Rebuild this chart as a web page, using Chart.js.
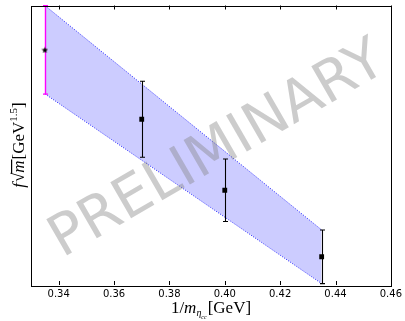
<!DOCTYPE html>
<html>
<head>
<meta charset="utf-8">
<script src="https://cdn.jsdelivr.net/npm/chart.js@4.4.0/dist/chart.umd.min.js"></script>
<style>
  html, body { margin: 0; padding: 0; background: #fff; }
  #wrap { width: 405px; height: 321px; position: relative; }
</style>
</head>
<body>
<div id="wrap"><canvas id="c" width="405" height="321"></canvas></div>
<script>
// ---- data (y in arbitrary units) ----
const xTicks = [0.34, 0.36, 0.38, 0.40, 0.42, 0.44, 0.46];
const latticeX = [0.37, 0.40, 0.435];
const latticeY = [0.593, 0.339, 0.101];
const latticeErr = [0.136, 0.112, 0.096];
const physX = [0.335];
const physY = [0.841];
const physErr = [0.158];
const bandX = [0.335, 0.435];
const bandUpper = [1.0, 0.197];
const bandLower = [0.684, 0.005];

const pts = (xs, ys) => xs.map((x, i) => ({ x: x, y: ys[i] }));

const serif = '"Liberation Serif", "DejaVu Serif", serif';

// filled five-point star used as the marker image
const starImg = (function () {
  const c = document.createElement('canvas');
  c.width = 7; c.height = 7;
  const g = c.getContext('2d');
  g.fillStyle = '#000';
  g.beginPath();
  for (let i = 0; i < 10; i++) {
    const r = i % 2 === 0 ? 3.4 : 1.5;
    const a = -Math.PI / 2 + i * Math.PI / 5;
    const x = 3.5 + r * Math.cos(a), y = 3.8 + r * Math.sin(a);
    if (i === 0) g.moveTo(x, y); else g.lineTo(x, y);
  }
  g.closePath();
  g.fill();
  return c;
})();

function drawRich(ctx, pieces, cx, baseY) {
  let total = 0;
  pieces.forEach(p => { ctx.font = p.font; p.w = ctx.measureText(p.t).width + (p.sp || 0); total += p.w; });
  let x = cx - total / 2;
  ctx.textAlign = 'left';
  ctx.textBaseline = 'alphabetic';
  pieces.forEach(p => {
    ctx.font = p.font;
    ctx.fillText(p.t, x, baseY + (p.dy || 0));
    if (p.over) {
      ctx.fillRect(x - 1, baseY + p.over, p.w + 1, 1.2);
    }
    x += p.w;
  });
}

const customPlugin = {
  id: 'custom',
  afterDatasetDraw(chart, args) {
    if (args.index !== 1) return;
    const ctx = chart.ctx, xs = chart.scales.x, ys = chart.scales.y;
    ctx.save();
    const area = chart.chartArea;
    ctx.beginPath();
    ctx.rect(area.left, area.top - 1, area.right - area.left, area.bottom - area.top + 2);
    ctx.clip();
    function bars(X, Y, E, color, lw) {
      ctx.strokeStyle = color; ctx.lineWidth = lw;
      X.forEach((x, i) => {
        const px = Math.round(xs.getPixelForValue(x)) + 0.5;
        const top = ys.getPixelForValue(Y[i] + E[i]);
        const bot = ys.getPixelForValue(Y[i] - E[i]);
        ctx.beginPath();
        ctx.moveTo(px, top); ctx.lineTo(px, bot);
        ctx.moveTo(px - 2.5, top); ctx.lineTo(px + 2.5, top);
        ctx.moveTo(px - 2.5, bot); ctx.lineTo(px + 2.5, bot);
        ctx.stroke();
      });
    }
    bars(physX, physY, physErr, '#ff00ff', 1.4);
    bars(latticeX, latticeY, latticeErr, '#000', 1.1);
    ctx.restore();
  },
  afterDraw(chart) {
    const ctx = chart.ctx, a = chart.chartArea, xs = chart.scales.x;
    ctx.save();
    // frame
    ctx.strokeStyle = '#000'; ctx.lineWidth = 1;
    ctx.strokeRect(Math.round(a.left) + 0.5, Math.round(a.top) + 0.5,
                   Math.round(a.right - a.left), Math.round(a.bottom - a.top));
    // inward ticks, bottom and top
    ctx.beginPath();
    xTicks.forEach(v => {
      const px = Math.round(xs.getPixelForValue(v)) + 0.5;
      ctx.moveTo(px, a.bottom); ctx.lineTo(px, a.bottom - 4);
      ctx.moveTo(px, a.top); ctx.lineTo(px, a.top + 4);
    });
    ctx.stroke();
    // x axis title
    ctx.fillStyle = '#000';
    drawRich(ctx, [
      { t: '1/', font: '17px ' + serif },
      { t: 'm', font: 'italic 17px ' + serif },
      { t: 'η', font: 'italic 10px ' + serif, dy: 3 },
      { t: 'cc', font: 'italic 6px ' + serif, dy: 6, sp: 1 },
      { t: '[GeV]', font: '17px ' + serif }
    ], 211, 313);
    // y axis title
    ctx.save();
    ctx.translate(24, 145);
    ctx.rotate(-Math.PI / 2);
    drawRich(ctx, [
      { t: 'f', font: 'italic 17px ' + serif, sp: 1 },
      { t: '√', font: '17px ' + serif },
      { t: 'm', font: 'italic 17px ' + serif, over: -13, sp: 1 },
      { t: '[GeV', font: '17px ' + serif },
      { t: '1.5', font: '11px ' + serif, dy: -7 },
      { t: ']', font: '17px ' + serif }
    ], 0, 0);
    ctx.restore();
    // watermark
    ctx.translate(218, 151);
    ctx.rotate(-30 * Math.PI / 180);
    ctx.font = '57px "DejaVu Sans"';
    ctx.fillStyle = 'rgba(128,128,128,0.4)';
    ctx.textAlign = 'center';
    ctx.textBaseline = 'middle';
    ctx.fillText('PRELIMINARY', 0, 0);
    ctx.restore();
  }
};

new Chart(document.getElementById('c'), {
  type: 'scatter',
  data: {
    datasets: [
      {
        type: 'line', data: pts(bandX, bandUpper), order: 3,
        borderColor: 'rgba(40,40,255,1)', borderWidth: 1, borderDash: [1, 1.5],
        backgroundColor: 'rgba(0,0,255,0.2)', fill: '+1', pointRadius: 0, tension: 0
      },
      {
        type: 'line', data: pts(bandX, bandLower), order: 2,
        borderColor: 'rgba(40,40,255,1)', borderWidth: 1, borderDash: [1, 1.5],
        fill: false, pointRadius: 0, tension: 0
      },
      {
        data: pts(latticeX, latticeY), order: 1,
        pointStyle: 'rect', pointRadius: 3.4, backgroundColor: '#000', borderColor: '#000', borderWidth: 0
      },
      {
        data: pts(physX, physY), order: 1,
        pointStyle: starImg, pointRadius: 3
      }
    ]
  },
  options: {
    responsive: false,
    animation: false,
    events: [],
    layout: { padding: { top: 5.5, right: 13, left: 0, bottom: 0 } },
    plugins: { legend: { display: false }, tooltip: { enabled: false } },
    scales: {
      x: {
        type: 'linear', min: 0.33, max: 0.46,
        afterBuildTicks: s => { s.ticks = xTicks.map(v => ({ value: v })); },
        afterFit: s => { s.height = 36; },
        grid: { display: false, drawTicks: false },
        border: { display: false },
        ticks: {
          padding: 3, color: '#000',
          font: { family: '"DejaVu Sans"', size: 10 },
          callback: v => v.toFixed(2), maxRotation: 0, autoSkip: false
        }
      },
      y: {
        type: 'linear', min: 0, max: 1.0,
        afterFit: s => { s.width = 31; },
        grid: { display: false, drawTicks: false },
        border: { display: false },
        ticks: { display: false }
      }
    }
  },
  plugins: [customPlugin]
});
</script>
</body>
</html>
